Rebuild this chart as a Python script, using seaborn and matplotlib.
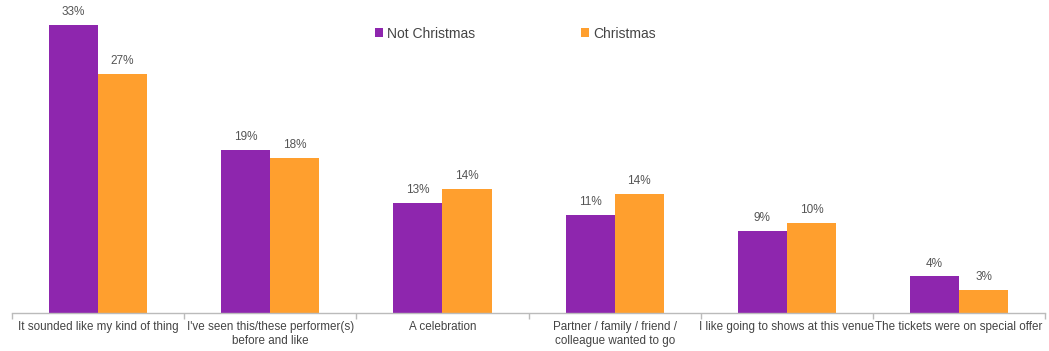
import numpy as np
import pandas as pd
import seaborn as sns
import matplotlib.pyplot as plt

# Data
reasons = ["It sounded like my kind of thing",
           "I've seen this/these performer(s)\nbefore and like",
           "A celebration",
           "Partner / family / friend /\ncolleague wanted to go",
           "I like going to shows at this venue",
           "The tickets were on special offer"]
not_christmas = [33.0, 18.7, 12.6, 11.2, 9.4, 4.2]
christmas = [27.4, 17.8, 14.2, 13.7, 10.3, 2.6]
series = ["Not Christmas", "Christmas"]
colors = ["#8E26AE", "#FF9F2E"]

df = pd.DataFrame({
    "reason": reasons * 2,
    "group": [series[0]] * len(reasons) + [series[1]] * len(reasons),
    "value": not_christmas + christmas,
})

sns.set_style("white")
plt.rcParams['font.family'] = ['Liberation Sans', 'DejaVu Sans']

fig = plt.figure(figsize=(10.49, 3.51), dpi=100)
ax = fig.add_axes([0.0114, 0.108, 0.985, 0.892])

sns.barplot(data=df, x="reason", y="value", hue="group", palette=colors,
            width=0.57, saturation=1, linewidth=0, ax=ax,
            order=reasons, hue_order=series)

for cont in ax.containers:
    ax.bar_label(cont, labels=[f"{v:.0f}%" for v in cont.datavalues],
                 padding=5, fontsize=8.5, color="#555555")

ax.set_ylim(0, 35.9)
ax.set_xlim(-0.5, len(reasons) - 0.5)
ax.set_xlabel("")
ax.set_ylabel("")
ax.set_yticks([])
for s in ["top", "right", "left"]:
    ax.spines[s].set_visible(False)
ax.spines["bottom"].set_color("#BBBBBB")
ax.spines["bottom"].set_linewidth(1)

ax.tick_params(axis="x", which="major", bottom=False, length=0, labelsize=8.4,
               labelcolor="#444444", pad=6)
ax.set_xticks(np.arange(-0.5, len(reasons)), minor=True)
ax.tick_params(axis="x", which="minor", bottom=True, length=4, width=1,
               color="#BBBBBB", direction="out")

ax.legend(loc="upper center", bbox_to_anchor=(0.487, 0.955), ncol=2,
          frameon=False, fontsize=10, handlelength=0.6, handleheight=0.6,
          handletextpad=0.3, columnspacing=7.6, labelcolor="#444444")

fig.savefig("out.png", dpi=100)
